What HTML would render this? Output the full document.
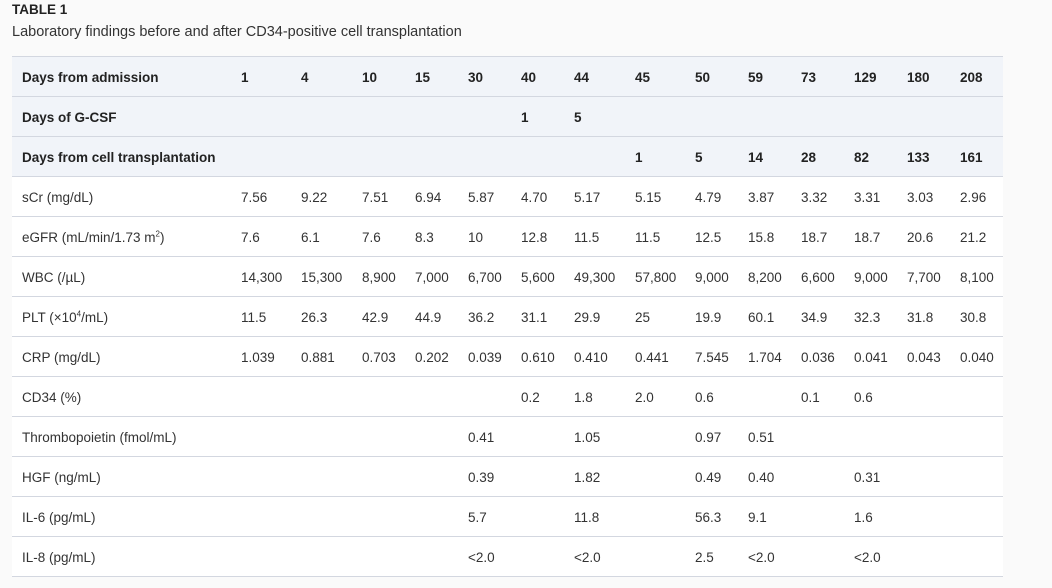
<!DOCTYPE html>
<html><head><meta charset="utf-8"><style>
body{margin:0;background:#fafafa;width:1052px;height:588px;overflow:hidden;font-family:"Liberation Sans",sans-serif;color:#333;}
.t1{position:absolute;left:12px;top:2px;font-weight:bold;font-size:13.5px;color:#222;}
.t2{position:absolute;left:12px;top:24px;font-size:14.5px;color:#333;}
table{position:absolute;left:12px;top:56px;border-collapse:collapse;table-layout:fixed;width:991px;font-size:13.5px;}
td{height:37px;padding:2px 0 0 10px;border-top:1px solid #d3d7e0;white-space:nowrap;overflow:visible;background:#fff;line-height:16px;}
tr.h td{background:#f1f4f9;font-weight:bold;color:#222;}
tr:last-child td{border-bottom:1px solid #d3d7e0;}
sup{font-size:8px;line-height:0;}
</style></head><body>
<div class="t1">TABLE 1</div>
<div class="t2">Laboratory findings before and after CD34-positive cell transplantation</div>
<table>
<colgroup><col style="width:219px"><col style="width:60px"><col style="width:61px"><col style="width:53px"><col style="width:53px"><col style="width:53px"><col style="width:53px"><col style="width:61px"><col style="width:60px"><col style="width:53px"><col style="width:53px"><col style="width:53px"><col style="width:53px"><col style="width:53px"><col style="width:53px"></colgroup>
<tr class="h"><td>Days from admission</td><td>1</td><td>4</td><td>10</td><td>15</td><td>30</td><td>40</td><td>44</td><td>45</td><td>50</td><td>59</td><td>73</td><td>129</td><td>180</td><td>208</td></tr>
<tr class="h"><td>Days of G-CSF</td><td></td><td></td><td></td><td></td><td></td><td>1</td><td>5</td><td></td><td></td><td></td><td></td><td></td><td></td><td></td></tr>
<tr class="h"><td>Days from cell transplantation</td><td></td><td></td><td></td><td></td><td></td><td></td><td></td><td>1</td><td>5</td><td>14</td><td>28</td><td>82</td><td>133</td><td>161</td></tr>
<tr><td>sCr (mg/dL)</td><td>7.56</td><td>9.22</td><td>7.51</td><td>6.94</td><td>5.87</td><td>4.70</td><td>5.17</td><td>5.15</td><td>4.79</td><td>3.87</td><td>3.32</td><td>3.31</td><td>3.03</td><td>2.96</td></tr>
<tr><td>eGFR (mL/min/1.73 m<sup>2</sup>)</td><td>7.6</td><td>6.1</td><td>7.6</td><td>8.3</td><td>10</td><td>12.8</td><td>11.5</td><td>11.5</td><td>12.5</td><td>15.8</td><td>18.7</td><td>18.7</td><td>20.6</td><td>21.2</td></tr>
<tr><td>WBC (/µL)</td><td>14,300</td><td>15,300</td><td>8,900</td><td>7,000</td><td>6,700</td><td>5,600</td><td>49,300</td><td>57,800</td><td>9,000</td><td>8,200</td><td>6,600</td><td>9,000</td><td>7,700</td><td>8,100</td></tr>
<tr><td>PLT (×10<sup>4</sup>/mL)</td><td>11.5</td><td>26.3</td><td>42.9</td><td>44.9</td><td>36.2</td><td>31.1</td><td>29.9</td><td>25</td><td>19.9</td><td>60.1</td><td>34.9</td><td>32.3</td><td>31.8</td><td>30.8</td></tr>
<tr><td>CRP (mg/dL)</td><td>1.039</td><td>0.881</td><td>0.703</td><td>0.202</td><td>0.039</td><td>0.610</td><td>0.410</td><td>0.441</td><td>7.545</td><td>1.704</td><td>0.036</td><td>0.041</td><td>0.043</td><td>0.040</td></tr>
<tr><td>CD34 (%)</td><td></td><td></td><td></td><td></td><td></td><td>0.2</td><td>1.8</td><td>2.0</td><td>0.6</td><td></td><td>0.1</td><td>0.6</td><td></td><td></td></tr>
<tr><td>Thrombopoietin (fmol/mL)</td><td></td><td></td><td></td><td></td><td>0.41</td><td></td><td>1.05</td><td></td><td>0.97</td><td>0.51</td><td></td><td></td><td></td><td></td></tr>
<tr><td>HGF (ng/mL)</td><td></td><td></td><td></td><td></td><td>0.39</td><td></td><td>1.82</td><td></td><td>0.49</td><td>0.40</td><td></td><td>0.31</td><td></td><td></td></tr>
<tr><td>IL-6 (pg/mL)</td><td></td><td></td><td></td><td></td><td>5.7</td><td></td><td>11.8</td><td></td><td>56.3</td><td>9.1</td><td></td><td>1.6</td><td></td><td></td></tr>
<tr><td>IL-8 (pg/mL)</td><td></td><td></td><td></td><td></td><td>&lt;2.0</td><td></td><td>&lt;2.0</td><td></td><td>2.5</td><td>&lt;2.0</td><td></td><td>&lt;2.0</td><td></td><td></td></tr>
</table>
</body></html>
